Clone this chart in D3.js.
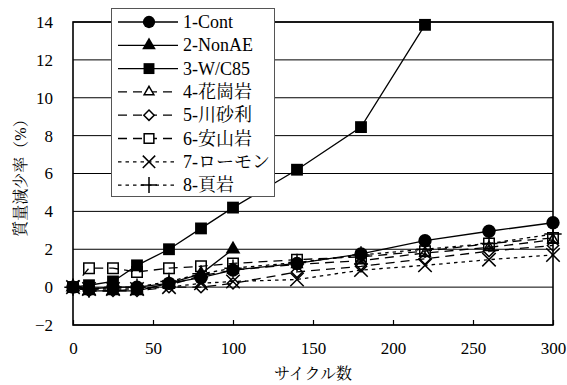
<!DOCTYPE html>
<html>
<head>
<meta charset="utf-8">
<script src="https://cdn.jsdelivr.net/npm/d3@7/dist/d3.min.js"></script>
<style>
  html, body { margin: 0; padding: 0; background: #fff; }
  svg { display: block; }
</style>
</head>
<body>
<svg id="chart" width="567" height="385"></svg>
<script>
// Cycle counts (x) and mass-loss values (%) for each mix
const cycles = [0, 10, 25, 40, 60, 80, 100, 140, 180, 220, 260, 300];
const seriesNames = ["1-Cont", "2-NonAE", "3-W/C85", "4-花崗岩", "5-川砂利", "6-安山岩", "7-ローモン", "8-頁岩"];
const cont     = [0, -0.1, 0.0, 0.0, 0.2, 0.5, 0.9, 1.25, 1.75, 2.45, 2.95, 3.4];
const nonAE    = [0, -0.2, -0.2, -0.2, 0.2, 0.7, 2.0];
const wc85     = [0, 0.1, 0.3, 1.15, 2.0, 3.1, 4.2, 6.2, 8.45, 13.85];
const granite  = [0, -0.2, -0.2, -0.1, 0.1, 0.6, 0.9, 1.2, 1.4, 1.8, 2.1, 2.5];
const gravel   = [0, -0.2, -0.2, -0.2, 0.0, 0.0, 0.2, 0.8, 1.1, 1.5, 1.9, 2.2];
const andesite = [0, 1.0, 1.0, 0.8, 1.0, 1.1, 1.25, 1.45, 1.6, 1.9, 2.3, 2.6];
const laumont  = [0, -0.1, -0.1, -0.1, 0.0, 0.2, 0.3, 0.4, 0.9, 1.15, 1.45, 1.7];
const shale    = [0, -0.1, 0.0, 0.0, 0.3, 0.7, 1.0, 1.3, 1.7, 2.0, 2.3, 2.8];
const xTicks = [0, 50, 100, 150, 200, 250, 300];
const yTicks = [-2, 0, 2, 4, 6, 8, 10, 12, 14];

const allValues = [cont, nonAE, wc85, granite, gravel, andesite, laumont, shale];

const FONT = '"Liberation Serif", "Noto Serif CJK JP", "Noto Sans CJK JP", serif';

// Marker / line style per series
const styles = [
  { sym: d3.symbolCircle,    size: 140, fill: "#000", dash: null },
  { sym: d3.symbolTriangle,  size: 95,  fill: "#000", dash: null },
  { sym: d3.symbolSquare,    size: 140, fill: "#000", dash: null },
  { sym: d3.symbolTriangle2, size: 80,  fill: "none", dash: "9,6" },
  { sym: d3.symbolDiamond2,  size: 80,  fill: "none", dash: "9,6" },
  { sym: d3.symbolSquare2,   size: 140, fill: "none", dash: "9,6" },
  { sym: d3.symbolTimes,     size: 120, fill: "none", dash: "3.5,4" },
  { sym: d3.symbolPlus,      size: 100, fill: "none", dash: "3.5,4" }
];

const svg = d3.select("#chart");
const m = { left: 73, right: 553, top: 22, bottom: 325 };

const x = d3.scaleLinear().domain([0, 300]).range([m.left, m.right]);
const y = d3.scaleLinear().domain([-2, 14]).range([m.bottom, m.top]);

// Horizontal gridlines
svg.append("g")
  .selectAll("line")
  .data(yTicks)
  .join("line")
  .attr("x1", m.left).attr("x2", m.right)
  .attr("y1", d => y(d)).attr("y2", d => y(d))
  .attr("stroke", "#000").attr("stroke-width", 1);

// Y axis (labels only; the gridlines act as ticks)
const yAxis = svg.append("g")
  .attr("transform", `translate(${m.left},0)`)
  .call(d3.axisLeft(y).tickValues(yTicks).tickSize(0).tickPadding(20)
    .tickFormat(d => d < 0 ? "\u2212" + Math.abs(d) : d));
yAxis.select(".domain").remove();
yAxis.selectAll("text")
  .style("font-family", FONT).style("font-size", "17px").style("fill", "#000");

// X axis with inward ticks
const xAxis = svg.append("g")
  .attr("transform", `translate(0,${m.bottom})`)
  .call(d3.axisBottom(x).tickValues(xTicks).tickSize(-5).tickPadding(14));
xAxis.select(".domain").remove();
xAxis.selectAll("line").attr("stroke", "#000").attr("stroke-width", 1.2);
xAxis.selectAll("text").attr("dy", "0.9em")
  .style("font-family", FONT).style("font-size", "17px").style("fill", "#000");

// Plot frame
svg.append("rect")
  .attr("x", m.left).attr("y", m.top)
  .attr("width", m.right - m.left).attr("height", m.bottom - m.top)
  .attr("fill", "none").attr("stroke", "#000").attr("stroke-width", 1.6);

// Series lines and markers
const line = d3.line().x(d => x(d[0])).y(d => y(d[1]));
allValues.forEach((vals, i) => {
  const st = styles[i];
  const pts = vals.map((v, j) => [cycles[j], v]);
  const g = svg.append("g");
  g.append("path")
    .attr("d", line(pts))
    .attr("fill", "none").attr("stroke", "#000").attr("stroke-width", 1.3)
    .attr("stroke-dasharray", st.dash);
  g.selectAll("path.mk")
    .data(pts)
    .join("path")
    .attr("class", "mk")
    .attr("transform", d => `translate(${x(d[0])},${y(d[1])})`)
    .attr("d", d3.symbol().type(st.sym).size(st.size))
    .attr("fill", st.fill)
    .attr("stroke", "#000")
    .attr("stroke-width", st.fill === "none" ? 1.5 : 0);
});

// Legend
const lg = svg.append("g");
lg.append("rect")
  .attr("x", 111.5).attr("y", 8.5).attr("width", 163).attr("height", 188)
  .attr("fill", "#fff").attr("stroke", "#555").attr("stroke-width", 1);
seriesNames.forEach((name, i) => {
  const st = styles[i];
  const cy = 22 + i * 23.3;
  lg.append("line")
    .attr("x1", 118).attr("x2", 178).attr("y1", cy).attr("y2", cy)
    .attr("stroke", "#000").attr("stroke-width", 1.3)
    .attr("stroke-dasharray", st.dash);
  lg.append("path")
    .attr("transform", `translate(149,${cy})`)
    .attr("d", d3.symbol().type(st.sym).size(st.size * 0.85))
    .attr("fill", st.fill === "none" ? "#fff" : st.fill)
    .attr("stroke", "#000")
    .attr("stroke-width", st.fill === "none" ? 1.5 : 0);
  lg.append("text")
    .attr("x", 183).attr("y", cy + 6)
    .style("font-family", FONT).style("font-size", "18px").style("fill", "#000")
    .text(name);
});

// Axis titles
svg.append("text")
  .attr("x", 313).attr("y", 379)
  .attr("text-anchor", "middle")
  .style("font-family", FONT).style("font-size", "16px").style("fill", "#000")
  .text("サイクル数");
svg.append("text")
  .attr("transform", "translate(26,174) rotate(-90)")
  .attr("text-anchor", "middle")
  .style("font-family", FONT).style("font-size", "16px").style("fill", "#000")
  .text("質量減少率（%）");
</script>
</body>
</html>
